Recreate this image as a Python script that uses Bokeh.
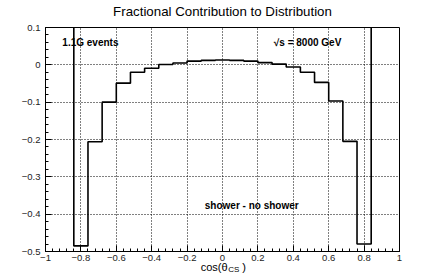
from bokeh.plotting import figure
from bokeh.models import FixedTicker, Label, Range1d
from bokeh.embed import file_html
from bokeh.resources import INLINE

# ---- data ----
bin_edges = [-1.0, -0.92, -0.84, -0.76, -0.68, -0.6, -0.52, -0.44, -0.36, -0.28, -0.2,
             -0.12, -0.04, 0.04, 0.12, 0.2, 0.28, 0.36, 0.44, 0.52, 0.6, 0.68, 0.76,
             0.84, 0.92, 1.0]
frac_values = [0.6, 0.6, -0.485, -0.206, -0.100, -0.049, -0.020, -0.009, 0.001, 0.005,
               0.010, 0.012, 0.013, 0.012, 0.010, 0.006, 0.002, -0.006, -0.020, -0.047,
               -0.097, -0.205, -0.480, 0.6, 0.6]
x_ticks = [-1, -0.8, -0.6, -0.4, -0.2, 0, 0.2, 0.4, 0.6, 0.8, 1]
x_labels = ["\u22121", "\u22120.8", "\u22120.6", "\u22120.4", "\u22120.2", "0", "0.2", "0.4", "0.6", "0.8", "1"]
x_minor = [round(-1 + 0.04 * i, 2) for i in range(51)]
y_ticks = [-0.5, -0.4, -0.3, -0.2, -0.1, 0, 0.1]
y_labels = ["\u22120.5", "\u22120.4", "\u22120.3", "\u22120.2", "\u22120.1", "0", "0.1"]
y_minor = [round(-0.5 + 0.02 * i, 2) for i in range(31)]

title_text = "Fractional Contribution to Distribution"

FONT = "Liberation Sans"

p = figure(width=443, height=277, output_backend="svg", toolbar_location=None, title=None,
           x_range=Range1d(-1, 1), y_range=Range1d(-0.5, 0.1),
           min_border_left=45, min_border_right=44, min_border_top=27, min_border_bottom=26)
p.background_fill_color = "white"
p.border_fill_color = "white"
p.outline_line_color = "black"
p.outline_line_width = 1

for ax, ticks, labels, minor in ((p.xaxis[0], x_ticks, x_labels, x_minor),
                                  (p.yaxis[0], y_ticks, y_labels, y_minor)):
    ax.ticker = FixedTicker(ticks=ticks, minor_ticks=minor)
    ax.major_label_overrides = {t: l for t, l in zip(ticks, labels)}
    ax.major_tick_in = 6
    ax.major_tick_out = 0
    ax.minor_tick_in = 3
    ax.minor_tick_out = 0
    ax.major_tick_line_color = "black"
    ax.minor_tick_line_color = "black"
    ax.axis_line_color = "black"
    ax.major_label_text_font = FONT
    ax.major_label_text_font_size = "9.5px"
    ax.major_label_text_color = "#222222"

p.xaxis.major_label_standoff = 3
p.yaxis.major_label_standoff = 5

for g, ticks in ((p.xgrid[0], x_ticks), (p.ygrid[0], y_ticks)):
    g.ticker = FixedTicker(ticks=ticks)
    g.grid_line_color = "black"
    g.grid_line_dash = "1 2"
    g.grid_line_width = 1

# histogram
p.step(x=bin_edges, y=frac_values + [frac_values[-1]], mode="after",
       line_color="black", line_width=1.6)

def lab(x, y, text, size, bold=False, align="left", baseline="middle", **kw):
    return Label(x=x, y=y, text=text, text_font=FONT, text_font_size=size,
                 text_font_style="bold" if bold else "normal",
                 text_align=align, text_baseline=baseline, text_color="black", **kw)

p.add_layout(lab(-0.905, 0.06, "1.1G events", "10px", bold=True))
p.add_layout(lab(0.29, 0.06, "\u221as = 8000 GeV", "10px", bold=True))
p.add_layout(lab(-0.10, -0.377, "shower - no shower", "10px", bold=True))

# title in the panel above the frame
p.add_layout(lab(0.0, 0.143, title_text, "13.3px", align="center"), "above")

# x-axis title cos(theta_CS): placed in the (empty) right side panel, x in data units
p.add_layout(lab(0.029, -15, "cos(\u03b8", "11px", align="right", baseline="alphabetic",
                 y_units="screen"), "right")
p.add_layout(lab(0.032, -18, "CS", "8px", align="left", baseline="alphabetic",
                 y_units="screen"), "right")
p.add_layout(lab(0.112, -15, ")", "11px", align="left", baseline="alphabetic",
                 y_units="screen"), "right")

open("out.html", "w").write(file_html(p, INLINE))
